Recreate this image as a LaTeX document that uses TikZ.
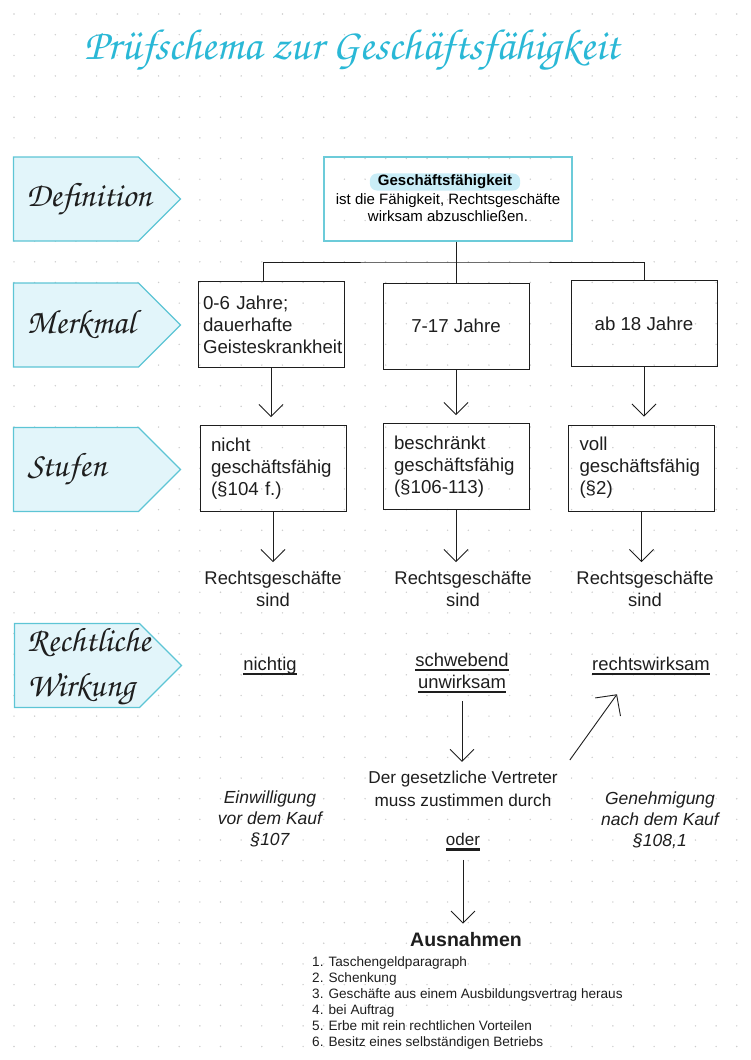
\documentclass[tikz,border=0pt]{standalone}
\usepackage{fontspec}
\setmainfont{Liberation Sans}
\newfontfamily\chorus{TeX Gyre Chorus}
\usetikzlibrary{arrows.meta, shapes.symbols, positioning, calc}
\definecolor{titlecyan}{HTML}{2AB8D6}
\definecolor{tagfill}{HTML}{E2F5FA}
\definecolor{tagdraw}{HTML}{5DC5D5}
\definecolor{defdraw}{HTML}{6CCBD9}
\definecolor{pillfill}{HTML}{C9EDF7}
\definecolor{dotgray}{HTML}{CDCDCD}
\definecolor{ink}{HTML}{1E1E1E}
\newcommand{\thickul}[1]{\setbox0=\hbox{#1}\rlap{\rule[-4.8pt]{\wd0}{2.2pt}}\box0}
\tikzset{
  tag/.style={
    signal, signal to=east, signal pointer angle=90, draw=tagdraw, fill=tagfill,
    line width=1.3pt, minimum width=167pt, minimum height=84pt, inner sep=0pt
  },
  tagtext/.style={font=\chorus\fontsize{34}{45}\selectfont, text=ink, align=left, inner sep=0pt},
  box/.style={
    rectangle, draw=ink, line width=0.9pt, minimum width=146pt, minimum height=86pt,
    align=center, font=\fontsize{18.7}{22}\selectfont, text=ink
  },
  boxl/.style={box, align=left, text width=124pt, inner xsep=11pt},
  defbox/.style={rectangle, draw=defdraw, line width=1.2pt, minimum width=248pt, minimum height=84pt},
  pill/.style={rounded corners=7pt, fill=pillfill, font=\bfseries\fontsize{15}{17}\selectfont, inner xsep=8pt, inner ysep=1.5pt},
  deftxt/.style={align=center, inner sep=0pt, font=\fontsize{15}{17}\selectfont},
  plain/.style={align=center, inner sep=0pt, font=\fontsize{18.4}{22}\selectfont, text=ink},
  note/.style={plain, font=\itshape\fontsize{17.5}{21}\selectfont},
  link/.style={draw=ink, line width=0.9pt},
  arr/.style={draw=ink, -{Straight Barb[length=12pt,width=24pt]}, line width=0.9pt},
  bigarr/.style={arr, -{Straight Barb[length=15pt,width=31pt]}}
}

\begin{document}
\begin{tikzpicture}[x=1pt, y=-1pt]
    \useasboundingbox (0,0) rectangle (750,1060);
    \foreach \i in {0,...,35}
      \foreach \j in {0,...,50}
        \fill[dotgray] ({14+20.65*\i},{14+20.65*\j}) circle (0.8pt);

    \node[font=\chorus\fontsize{43.5}{44}\selectfont, text=titlecyan, inner sep=0pt] (title) at (352,50) {Prüfschema zur Geschäftsfähigkeit};

    \node[tag] (tagDef) at (76,199) {};
    \node[tagtext] (tagDefTxt) at (89,199) {Definition};
    \node[tag] (tagMerk) at (76,325) {};
    \node[tagtext] (tagMerkTxt) at (81,325) {Merkmal};
    \node[tag] (tagStuf) at (76,469.5) {};
    \node[tagtext] (tagStufTxt) at (67,469) {Stufen};
    \node[tag] (tagWirk) at (77,665.5) {};
    \node[tagtext, anchor=west] (tagWirkTxt) at (27,667) {Rechtliche\\Wirkung};

    \node[defbox] (defBox) at (448,199) {};
    \node[pill] (defWord) at (445,182) {Geschäftsfähigkeit};
    \node[deftxt] (defTxt) at (448,207.5) {ist die Fähigkeit, Rechtsgeschäfte\\wirksam abzuschließen.};

    \node[boxl, inner xsep=5pt, text width=136pt] (ageA) at (271,324.5) {0-6 Jahre;\\dauerhafte\\Geisteskrankheit};
    \node[box] (ageB) at (456,326) {7-17 Jahre};
    \node[box] (ageC) at (644,323.5) {ab 18 Jahre};

    \coordinate (split) at (456,262);
    \draw[link] (split |- defBox.south) -- (split);
    \draw[link] ([xshift=-8pt]ageA.north) |- (split) -| (ageC.north);
    \draw[link] (split) -- (ageB.north);

    \node[boxl] (levA) at (273,468.5) {nicht\\geschäftsfähig\\(§104 f.)};
    \node[boxl] (levB) at (456,466.5) {beschränkt\\geschäftsfähig\\(§106-113)};
    \node[boxl] (levC) at (641.5,468) {voll\\geschäftsfähig\\(§2)};

    \draw[arr, shorten >=8pt] (ageA.south) -- (ageA.south |- levA.north);
    \draw[arr, shorten >=8pt] (ageB.south) -- (ageB.south |- levB.north);
    \draw[arr, shorten >=8pt] (ageC.south) -- (ageC.south |- levC.north);

    \node[plain] (resA) at (273,589) {Rechtsgeschäfte\\sind};
    \node[plain] (resB) at (463,589) {Rechtsgeschäfte\\sind};
    \node[plain] (resC) at (645,589) {Rechtsgeschäfte\\sind};

    \draw[arr, shorten >=9pt] (levA.south) -- (levA.south |- resA.north);
    \draw[arr, shorten >=9pt] (levB.south) -- (levB.south |- resB.north);
    \draw[arr, shorten >=9pt] (levC.south) -- (levC.south |- resC.north);

    \node[plain] (effA) at (270,666) {\thickul{nichtig}};
    \node[plain] (effB) at (462,673) {\thickul{schwebend}\\\thickul{unwirksam}};
    \node[plain] (effC) at (651,666) {\thickul{rechtswirksam}};

    \node[plain, font=\fontsize{17.2}{23}\selectfont] (repB) at (463,789) {Der gesetzliche Vertreter\\muss zustimmen durch};
    \draw[arr, shorten <=8pt, shorten >=9pt] (effB.south) -- (effB.south |- repB.north);
    \draw[bigarr] ([xshift=12pt, yshift=11pt]repB.north east) -- ([xshift=-34pt, yshift=-19pt]effC.south);

    \node[note] (consA) at (270,819) {Einwilligung\\vor dem Kauf\\§107};
    \node[note] (consC) at (660,820) {Genehmigung\\nach dem Kauf\\§108,1};
    \node[plain, font=\fontsize{17}{20}\selectfont] (orNode) at (463,842) {\thickul{oder}};

    \node[plain, font=\bfseries\fontsize{19.5}{22}\selectfont] (excHead) at (466,940) {Ausnahmen};
    \draw[arr, shorten <=9pt, shorten >=9pt] (orNode.south) -- (orNode.south |- excHead.north);
    \node[plain, align=left, anchor=north west, font=\fontsize{13.6}{16}\selectfont] (excList) at (312,956) {1. Taschengeldparagraph\\2. Schenkung\\3. Geschäfte aus einem Ausbildungsvertrag heraus\\4. bei Auftrag\\5. Erbe mit rein rechtlichen Vorteilen\\6. Besitz eines selbständigen Betriebs};
    \end{tikzpicture}
\end{document}
